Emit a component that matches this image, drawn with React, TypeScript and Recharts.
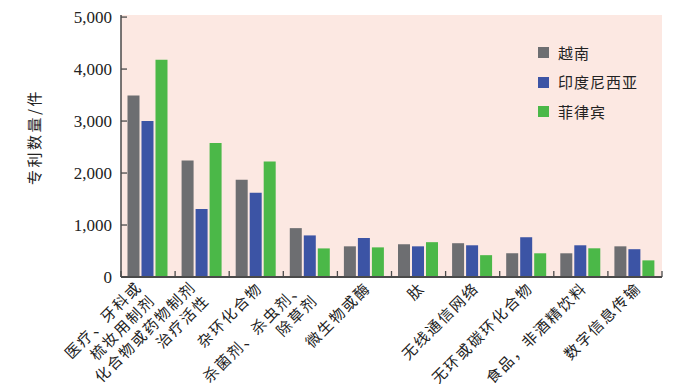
import React from 'react';
import { BarChart, Bar, XAxis, YAxis, CartesianGrid } from 'recharts';

const categories = [
  '医疗、牙科或\n梳妆用制剂',
  '化合物或药物制剂\n治疗活性',
  '杂环化合物',
  '杀菌剂、杀虫剂、\n除草剂',
  '微生物或酶',
  '肽',
  '无线通信网络',
  '无环或碳环化合物',
  '食品，非酒精饮料',
  '数字信息传输',
];
const vietnam = [3490, 2240, 1870, 940, 590, 630, 650, 456, 456, 590];
const indonesia = [3000, 1310, 1620, 800, 750, 590, 610, 765, 610, 535];
const philippines = [4180, 2580, 2220, 550, 570, 670, 420, 456, 552, 320];
const yTicks = [0, 1000, 2000, 3000, 4000, 5000];
const seriesNames = ['越南', '印度尼西亚', '菲律宾'];
const seriesColors = ['#6d6e71', '#3c54a5', '#4bb848'];

const data = categories.map((c, i) => ({
  name: c,
  v: vietnam[i],
  id: indonesia[i],
  ph: philippines[i],
}));

const W = 675;
const H = 384;
const M = { top: 15, right: 13, left: 0, bottom: 0 };
const YW = 121;
const XH = 107;
const BAND = (W - YW - M.right) / categories.length;
const AXIS = '#4a4a4a';
const TEXT = '#222';
const CJK = '"Noto Sans CJK SC", "Noto Sans", sans-serif';

const fmt = (v: number) => v.toLocaleString('en-US');

const YTick = (props: any) => {
  const { x, y, payload } = props;
  return (
    <g>
      <line x1={x} x2={x + 6} y1={y} y2={y} stroke={AXIS} strokeWidth={1.3} />
      <text x={x - 9} y={y} textAnchor="end" dominantBaseline="central" fontFamily='"Liberation Serif", serif' fontSize={17} fill={TEXT}>
        {fmt(payload.value)}
      </text>
    </g>
  );
};

const XTick = (props: any) => {
  const { x, y, payload, index } = props;
  const lines = String(payload.value).split('\n');
  const n = lines.length;
  const lh = 19;
  const shift = n > 1 ? -8 : 0;
  return (
    <g>
      {index === 0 && (
        <line x1={x - BAND / 2} x2={x - BAND / 2} y1={y} y2={y - 6} stroke={AXIS} strokeWidth={1.3} />
      )}
      <line x1={x + BAND / 2} x2={x + BAND / 2} y1={y} y2={y - 6} stroke={AXIS} strokeWidth={1.3} />
      <g transform={`translate(${x + 2.6},${y + 7.4}) rotate(-45)`}>
        {lines.map((l, i) => (
          <text
            key={i}
            x={shift}
            y={(i - (n - 1) / 2) * lh}
            textAnchor="end"
            dominantBaseline="central"
            fontFamily={CJK}
            fontSize={15}
            letterSpacing={1.9}
            fill={TEXT}
          >
            {l}
          </text>
        ))}
      </g>
    </g>
  );
};

const YLabel = () => (
  <text
    transform="translate(33,137) rotate(-90)"
    textAnchor="middle"
    dominantBaseline="central"
    fontFamily={CJK}
    fontSize={15}
    letterSpacing={2.5}
    fill={TEXT}
  >
    专利数量/件
  </text>
);

export default function App() {
  return (
    <div style={{ position: 'absolute', left: 0, top: 0, width: W, height: H, background: '#fff' }}>
      <BarChart width={W} height={H} data={data} margin={M} barCategoryGap="12%" barGap={2}>
        <CartesianGrid horizontal={false} vertical={false} fill="#fce8e2" stroke="none" />
        <XAxis
          dataKey="name"
          interval={0}
          height={XH}
          tickSize={0}
          tickMargin={0}
          tickLine={false}
          axisLine={{ stroke: AXIS, strokeWidth: 2 }}
          tick={<XTick />}
        />
        <YAxis
          width={YW}
          domain={[0, 5040]}
          ticks={yTicks}
          tickSize={0}
          tickMargin={0}
          tickLine={false}
          axisLine={{ stroke: AXIS, strokeWidth: 1.5 }}
          tick={<YTick />}
          label={<YLabel />}
        />
        <Bar dataKey="v" name={seriesNames[0]} fill={seriesColors[0]} isAnimationActive={false} />
        <Bar dataKey="id" name={seriesNames[1]} fill={seriesColors[1]} isAnimationActive={false} />
        <Bar dataKey="ph" name={seriesNames[2]} fill={seriesColors[2]} isAnimationActive={false} />
      </BarChart>
      <div style={{ position: 'absolute', left: 538, top: 38 }}>
        {seriesNames.map((s, i) => (
          <div key={s} style={{ display: 'flex', alignItems: 'center', height: 29.5 }}>
            <div style={{ width: 11, height: 11, background: seriesColors[i], marginRight: 9 }} />
            <span style={{ fontFamily: CJK, fontSize: 15, letterSpacing: 1, color: TEXT, lineHeight: '20px' }}>{s}</span>
          </div>
        ))}
      </div>
    </div>
  );
}
